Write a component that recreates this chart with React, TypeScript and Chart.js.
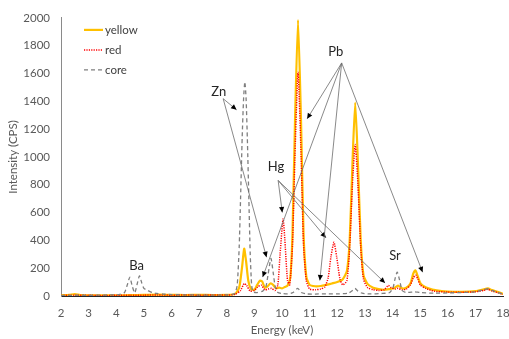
import React, { useEffect, useRef } from "react";
import { Chart, registerables } from "chart.js";

Chart.register(...registerables);

// ---- data (energy keV, intensity CPS) ----
const seriesNames = ["yellow", "red", "core"];

const corePoints: [number, number][] = [
  [2.0, 5], [2.3, 4], [2.6, 6], [3.0, 5], [3.4, 6], [3.8, 8], [4.1, 10], [4.3, 25], [4.4, 80],
  [4.49, 136], [4.58, 70], [4.67, 22], [4.75, 80], [4.84, 145], [4.93, 90], [5.0, 55], [5.14, 40],
  [5.3, 25], [5.46, 18], [5.7, 14], [6.0, 10], [6.5, 8], [7.0, 7], [7.5, 6], [8.0, 8], [8.2, 12],
  [8.3, 20], [8.38, 80], [8.45, 350], [8.5, 700], [8.56, 1150], [8.61, 1420], [8.655, 1540],
  [8.7, 1420], [8.75, 1100], [8.8, 700], [8.85, 300], [8.9, 80], [8.95, 30], [9.1, 25], [9.3, 35],
  [9.42, 70], [9.5, 160], [9.6, 270], [9.68, 170], [9.76, 60], [9.85, 25], [10.0, 18], [10.2, 15],
  [10.4, 25], [10.57, 55], [10.7, 25], [10.9, 15], [11.2, 14], [11.6, 16], [12.0, 15], [12.4, 20],
  [12.55, 40], [12.64, 55], [12.75, 35], [12.9, 20], [13.2, 15], [13.6, 18], [13.9, 25], [14.02, 60],
  [14.1, 130], [14.17, 172], [14.25, 120], [14.35, 40], [14.5, 25], [14.8, 30], [15.0, 25],
  [15.5, 20], [16.0, 22], [16.5, 25], [17.0, 30], [17.3, 45], [17.47, 52], [17.6, 40], [17.8, 25],
  [18.0, 15],
];

const yellowPoints: [number, number][] = [
  [2.0, 5], [2.3, 8], [2.5, 14], [2.7, 6], [3.0, 5], [3.5, 4], [4.0, 5], [4.5, 6], [5.0, 8],
  [5.5, 10], [6.0, 8], [6.5, 7], [7.0, 8], [7.5, 7], [8.0, 8], [8.3, 15], [8.45, 60], [8.55, 200],
  [8.63, 340], [8.7, 250], [8.78, 110], [8.88, 50], [9.0, 45], [9.1, 80], [9.2, 110], [9.28, 105],
  [9.38, 60], [9.48, 70], [9.58, 90], [9.68, 80], [9.78, 55], [9.9, 60], [10.0, 55], [10.1, 65],
  [10.2, 75], [10.3, 130], [10.38, 450], [10.47, 1250], [10.58, 1985], [10.69, 1250], [10.78, 450],
  [10.88, 140], [11.0, 80], [11.2, 70], [11.4, 72], [11.6, 80], [11.8, 90], [12.0, 100], [12.2, 120],
  [12.35, 180], [12.45, 400], [12.55, 950], [12.65, 1390], [12.75, 950], [12.85, 400], [12.95, 150],
  [13.1, 85], [13.3, 60], [13.5, 50], [13.7, 45], [13.9, 50], [14.05, 55], [14.2, 75], [14.35, 55],
  [14.5, 60], [14.65, 90], [14.75, 160], [14.83, 185], [14.9, 150], [15.0, 95], [15.1, 75],
  [15.3, 55], [15.6, 40], [16.0, 32], [16.5, 30], [17.0, 35], [17.3, 48], [17.45, 55], [17.6, 42],
  [17.8, 30], [18.0, 15],
];

const redPoints: [number, number][] = [
  [2.0, 4], [2.5, 6], [3.0, 5], [3.5, 4], [4.0, 5], [4.5, 5], [5.0, 6], [5.5, 8], [6.0, 6], [6.5, 7],
  [7.0, 6], [7.5, 7], [8.0, 7], [8.3, 12], [8.5, 40], [8.63, 90], [8.72, 75], [8.85, 35], [9.0, 40],
  [9.12, 65], [9.25, 78], [9.38, 45], [9.5, 50], [9.62, 55], [9.75, 40], [9.85, 80], [9.93, 300],
  [10.04, 555], [10.12, 350], [10.2, 110], [10.28, 80], [10.38, 370], [10.47, 1020], [10.58, 1610],
  [10.69, 1020], [10.78, 370], [10.88, 110], [11.0, 50], [11.2, 45], [11.4, 50], [11.55, 65],
  [11.67, 130], [11.77, 280], [11.88, 386], [11.98, 280], [12.1, 120], [12.2, 80], [12.35, 110],
  [12.45, 350], [12.55, 800], [12.65, 1090], [12.75, 800], [12.85, 350], [12.95, 120], [13.1, 60],
  [13.3, 45], [13.5, 40], [13.7, 45], [13.85, 76], [13.95, 60], [14.1, 50], [14.2, 55], [14.35, 45],
  [14.5, 50], [14.65, 80], [14.75, 130], [14.84, 150], [14.92, 120], [15.0, 80], [15.2, 55],
  [15.5, 35], [16.0, 28], [16.5, 27], [17.0, 30], [17.3, 40], [17.45, 48], [17.6, 36], [17.8, 25],
  [18.0, 12],
];

// element labels: [label, energy, intensity]
const elementLabels: [string, number, number][] = [
  ["Ba", 4.74, 219],
  ["Zn", 7.71, 1469],
  ["Hg", 9.78, 926],
  ["Pb", 11.95, 1755],
  ["Sr", 14.09, 291],
];
// arrow origins (Zn, Hg, Pb) and their targets
const arrowOrigins: [number, number][] = [
  [7.87, 1419],
  [9.86, 831],
  [12.16, 1676],
];
const arrowTargets: [number, number][][] = [
  [[8.355, 1339], [9.44, 279]],
  [[10.01, 601], [11.59, 419], [13.73, 94]],
  [[10.91, 1274], [9.3, 136], [11.37, 112], [15.09, 171]],
];

const FONT = "Lato, 'Open Sans', sans-serif";

const toXY = (pts: [number, number][]) => pts.map(([x, y]) => ({ x, y }));

const styles = [
  { color: "#FFC000", width: 2.2, dash: [] as number[] },
  { color: "#FF0000", width: 1.5, dash: [1.2, 1.2] },
  { color: "#7F7F7F", width: 1.3, dash: [4, 3] },
];

const annotationPlugin = {
  id: "annot",
  afterDatasetsDraw(chart: any) {
    const { ctx, scales, chartArea } = chart;
    const xs = scales.x;
    const ys = scales.y;
    ctx.save();
    arrowOrigins.forEach((o, i) => {
      const ox = xs.getPixelForValue(o[0]);
      const oy = ys.getPixelForValue(o[1]);
      arrowTargets[i].forEach((t) => {
        const tx = xs.getPixelForValue(t[0]);
        const ty = ys.getPixelForValue(t[1]);
        ctx.strokeStyle = "#6b6b6b";
        ctx.lineWidth = 0.8;
        ctx.setLineDash([]);
        ctx.beginPath();
        ctx.moveTo(ox, oy);
        ctx.lineTo(tx, ty);
        ctx.stroke();
        const ang = Math.atan2(ty - oy, tx - ox);
        const L = 5.5, W = 2.6;
        ctx.fillStyle = "#000";
        ctx.beginPath();
        ctx.moveTo(tx, ty);
        ctx.lineTo(tx - L * Math.cos(ang) + W * Math.sin(ang), ty - L * Math.sin(ang) - W * Math.cos(ang));
        ctx.lineTo(tx - L * Math.cos(ang) - W * Math.sin(ang), ty - L * Math.sin(ang) + W * Math.cos(ang));
        ctx.closePath();
        ctx.fill();
      });
    });
    ctx.fillStyle = "#262626";
    ctx.font = `13px ${FONT}`;
    ctx.textAlign = "center";
    ctx.textBaseline = "middle";
    elementLabels.forEach(([t, e, v]) => {
      ctx.fillText(t, xs.getPixelForValue(e), ys.getPixelForValue(v));
    });
    ctx.font = `11.5px ${FONT}`;
    ctx.textAlign = "left";
    ctx.fillStyle = "#404040";
    seriesNames.forEach((name, i) => {
      const y = chartArea.top + 12 + i * 20;
      const x0 = chartArea.left + 23;
      const s = styles[i];
      ctx.strokeStyle = s.color;
      ctx.lineWidth = s.width;
      ctx.setLineDash(s.dash);
      ctx.beginPath();
      ctx.moveTo(x0, y);
      ctx.lineTo(x0 + 19, y);
      ctx.stroke();
      ctx.setLineDash([]);
      ctx.fillText(name, x0 + 21, y);
    });
    ctx.restore();
  },
};

export default function App() {
  const ref = useRef<HTMLCanvasElement>(null);
  useEffect(() => {
    document.body.style.margin = "0";
    if (!ref.current) return;
    const pointSets = [yellowPoints, redPoints, corePoints];
    const datasets = seriesNames.map((name, i) => ({
      label: name,
      data: toXY(pointSets[i]),
      borderColor: styles[i].color,
      borderWidth: styles[i].width,
      borderDash: styles[i].dash,
      pointRadius: 0,
      fill: false,
      tension: 0.2,
      order: 2 - i,
    }));
    const chart = new Chart(ref.current, {
      type: "line",
      data: { datasets },
      plugins: [annotationPlugin],
      options: {
        animation: false,
        responsive: false,
        devicePixelRatio: 1,
        layout: { padding: { top: 16, right: 6, left: 0, bottom: 0 } },
        plugins: { legend: { display: false }, tooltip: { enabled: false } },
        scales: {
          x: {
            type: "linear",
            min: 2,
            max: 18,
            grid: { display: false, drawTicks: false },
            border: { display: true, color: "#262626", width: 1 },
            ticks: { stepSize: 1, maxRotation: 0, color: "#595959", font: { family: FONT, size: 11.5 }, padding: 10 },
            title: { display: true, text: "Energy (keV)", color: "#595959", font: { family: FONT, size: 11.5 }, padding: { top: 0, bottom: 2 } },
            afterFit: (s: any) => { s.height = 43; s.paddingLeft = 0; s.paddingRight = 0; },
          },
          y: {
            min: 0,
            max: 2000,
            grid: { display: false, drawTicks: false },
            border: { display: true, color: "#8a8a8a", width: 1 },
            ticks: { stepSize: 200, color: "#595959", font: { family: FONT, size: 11.5 }, padding: 11, callback: (v: any) => String(v) },
            title: { display: true, text: "Intensity (CPS)", color: "#595959", font: { family: FONT, size: 11.5 }, padding: { top: 6, bottom: 0 } },
            afterFit: (s: any) => { s.width = 61; },
          },
        },
      },
    } as any);
    return () => chart.destroy();
  }, []);
  return (
    <div style={{ position: "absolute", left: 0, top: 0, width: 509, height: 339 }}>
      <canvas ref={ref} width={509} height={339} />
    </div>
  );
}
